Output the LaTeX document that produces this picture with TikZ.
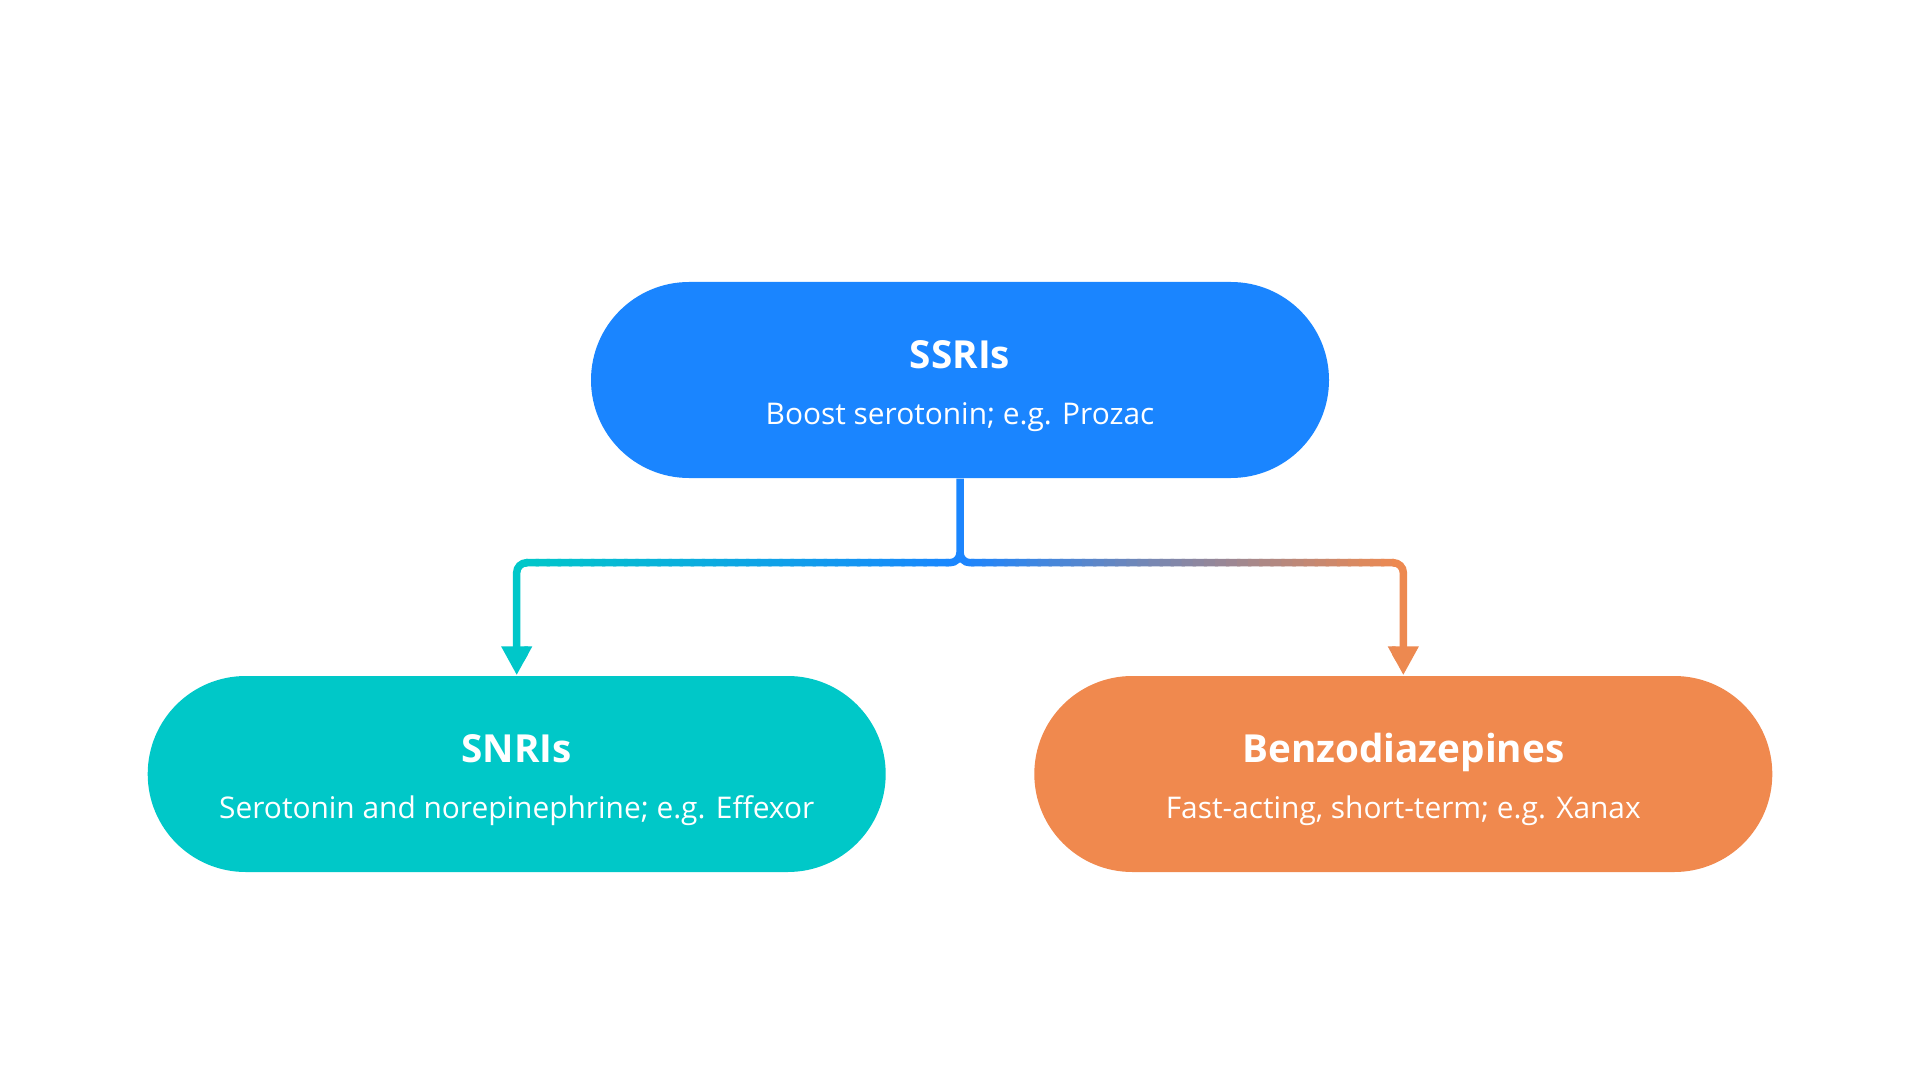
\documentclass[tikz,border=0pt]{standalone}
\usepackage{fontspec}
\setmainfont{Open Sans}
\usetikzlibrary{arrows.meta,calc}
\definecolor{ssriblue}{HTML}{1A85FF}
\definecolor{snriteal}{HTML}{00C8C8}
\definecolor{benzoorange}{HTML}{F0894E}
\tikzset{
  drug/.style={rectangle, rounded corners=.98cm, minimum width=7.38cm, minimum height=1.96cm,
    inner sep=0pt, text=white, align=center, font=\fontsize{8}{12}\selectfont},
  link/.style={line width=.075cm, rounded corners=.1cm, -{Triangle[length=.29cm,width=.29cm]}},
}
\newcommand{\drugtext}[2]{{\fontsize{11}{13}\selectfont\bfseries\rule{0pt}{11.5pt}#1}\\[3.8pt]{\fontsize{8.5}{10}\selectfont #2}}
\begin{document}
\begin{tikzpicture}
    \useasboundingbox (0,0) rectangle (19.2,-10.8);
    \node[drug, fill=ssriblue] (ssri) at (9.6,-3.8) {\drugtext{SSRIs}{Boost serotonin; e.g. Prozac}};
    \node[drug, fill=snriteal] (snri) at (5.167,-7.74) {\drugtext{SNRIs}{Serotonin and norepinephrine; e.g. Effexor}};
    \node[drug, fill=benzoorange] (benzo) at (14.033,-7.74) {\drugtext{Benzodiazepines}{Fast-acting, short-term; e.g. Xanax}};
    \coordinate (split) at ($(ssri.south)+(0,-.84)$); % where the stem branches
    % each branch is drawn in thin strips, its colour mixed from blue along x
    \foreach \target/\tint in {snri/snriteal, benzo/benzoorange}{
      \foreach \i in {0,...,39}{
        \pgfmathsetmacro\share{100*(\i+.5)/40}
        \pgfmathsetmacro\lo{\i/40}
        \pgfmathsetmacro\hi{ifthenelse(\i==39,1.1,(\i+1.3)/40)}
        \begin{scope}
          \clip ($(split)!\lo!(split-|\target.north)+(0,1)$) rectangle ($(split)!\hi!(split-|\target.north)+(0,-3)$);
          \draw[link, draw=\tint!\share!ssriblue]
            (ssri.south) |- (split-|\target.north) -- (\target.north);
        \end{scope}
      }
    }
\end{tikzpicture}
\end{document}
